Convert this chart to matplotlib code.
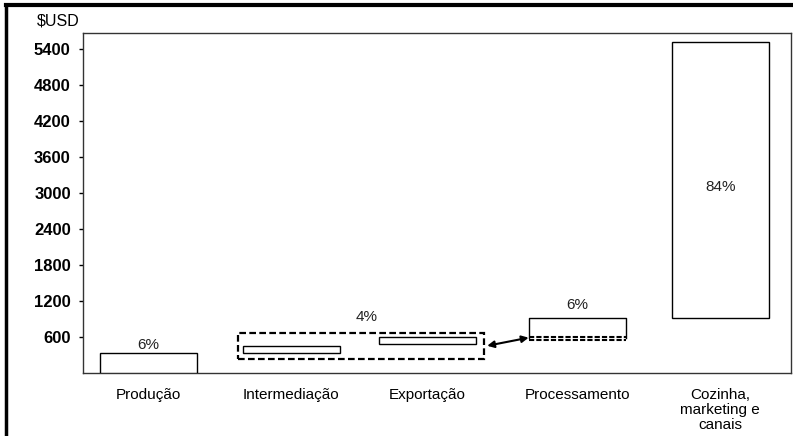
import matplotlib.pyplot as plt
from matplotlib.patches import Rectangle
from matplotlib.lines import Line2D

plt.rcParams['font.family'] = ['Liberation Sans', 'DejaVu Sans']

# value chain, $USD per stage (floating bars: bottom -> top)
categories = ['Produção', 'Intermediação', 'Exportação', 'Processamento',
              'Cozinha,\nmarketing e\ncanais']
bottoms = [0, 330, 480, 580, 910]
tops = [330, 450, 600, 910, 5520]
shares = ['6%', '4%', '6%', '84%']
yticks = [600, 1200, 1800, 2400, 3000, 3600, 4200, 4800, 5400]

fig = plt.figure(figsize=(7.93, 4.36), dpi=100)
ax = fig.add_axes([0.105, 0.145, 0.8925, 0.7795])

x = [0, 1, 1.95, 3, 4]
w = 0.68
heights = [t - b for t, b in zip(tops, bottoms)]

# Processamento gets a dashed base instead of a solid one
for i, xi in enumerate(x):
    if i == 3:
        xl, xr = xi - w / 2, xi + w / 2
        ax.plot([xl, xl, xr, xr], [bottoms[i], tops[i], tops[i], bottoms[i]],
                color='black', lw=1, zorder=3)
        for yy in (bottoms[i] + 10, bottoms[i] - 30):
            ax.plot([xl, xr], [yy, yy], color='black', lw=1.5,
                    ls=(0, (2.5, 1)), zorder=3)
    else:
        ax.bar(xi, heights[i], bottom=bottoms[i], width=w, facecolor='white',
               edgecolor='black', lw=1, zorder=3)

# dashed box around intermediação + exportação
bx0 = x[1] - w / 2 - 0.03
bx1 = x[2] + w / 2 + 0.06
ax.add_patch(Rectangle((bx0, 233), bx1 - bx0, 665 - 233, fill=False,
                       ls=(0, (3, 1.5)), lw=1.6, edgecolor='black', zorder=4))

ax.annotate('', xy=(bx1 + 0.02, 450), xytext=(x[3] - w / 2, 585),
            arrowprops=dict(arrowstyle='<|-|>', color='black', lw=1.5,
                            mutation_scale=10, shrinkA=0, shrinkB=0))

# percentage labels
lbl = dict(ha='center', va='center', fontsize=11, color='#222222')
ax.text(x[0], 470, shares[0], **lbl)
ax.text(1.53, 930, shares[1], **lbl)
ax.text(x[3], 1130, shares[2], **lbl)
ax.text(x[4], 3100, shares[3], **lbl)

ax.set_xlim(-0.455, 4.495)
ax.set_ylim(0, 5664)
ax.set_yticks(yticks)
ax.set_yticklabels([str(v) for v in yticks], fontsize=12, fontweight='bold')
ax.set_xticks(x)
ax.set_xticklabels(categories, fontsize=11, linespacing=1.1, va='top')
ax.tick_params(axis='x', length=0, pad=11)
ax.tick_params(axis='y', length=3, width=1, pad=6, direction='out')
for s in ax.spines.values():
    s.set_color('#333333')
    s.set_linewidth(1)

fig.text(0.046, 0.952, '$USD', fontsize=11.5, va='center', ha='left')

# outer frame: heavy top and left rules
fig.add_artist(Line2D([0.0076, 1.0], [0.988, 0.988], color='black', lw=3,
                      transform=fig.transFigure))
fig.add_artist(Line2D([0.0076, 0.0076], [0.0, 0.988], color='black', lw=2.5,
                      transform=fig.transFigure))

fig.savefig('out.png', dpi=100)
